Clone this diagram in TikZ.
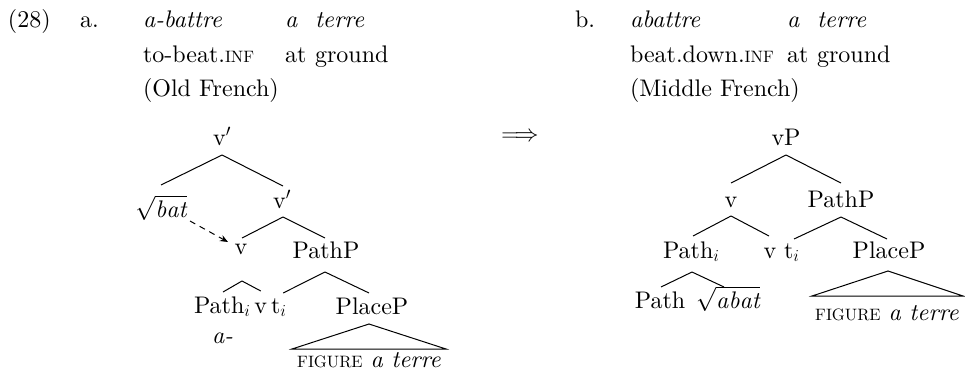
\RequirePackage{fix-cm}
\documentclass[tikz,border=0pt]{standalone}
\usepackage{fontspec}
\setmainfont{lmroman10-regular.otf}[
  ItalicFont=lmroman10-italic.otf,
  BoldFont=lmroman10-bold.otf]
\usetikzlibrary{calc,arrows.meta}
% small capitals drawn as reduced upper case
\newcommand\smallcapsword[1]{{\fontsize{16.5}{20}\selectfont #1}}
\begin{document}
\begin{tikzpicture}[x=1pt,y=-1pt,
  every node/.style={inner sep=0pt, outer sep=0pt, font=\fontsize{24}{29}\selectfont},
  word/.style={anchor=base west},
  lab/.style={anchor=base},
  branch/.style={line width=1pt},
  move/.style={line width=1pt, dash pattern=on 6pt off 5pt,
    -{Stealth[length=8pt,width=6.5pt]}}]
\useasboundingbox (0,0) rectangle (965,378);

% ---- example (28a): glossed line
\node[word] (exnum) at (8,27) {(28)};
\node[word] (exa)   at (80,27) {a.};
\node[word] (a1)    at (143,27) {\itshape a-battre};
\node[word] (a2)    at (285,27) {\itshape a};
\node[word] (a3)    at (315,27) {\itshape terre};
\node[word] (g1)    at (143,62) {to-beat.\smallcapsword{INF}};
\node[word] (g2)    at (285,62) {at};
\node[word] (g3)    at (315,62) {ground};
\node[word] (tra)   at (143,96) {(Old French)};

% ---- example (28b): glossed line
\node[word] (exb)   at (575,27) {b.};
\node[word] (b1)    at (630,27) {\itshape abattre};
\node[word] (b2)    at (787,27) {\itshape a};
\node[word] (b3)    at (817,27) {\itshape terre};
\node[word] (h1)    at (630,62) {beat.down.\smallcapsword{INF}};
\node[word] (h2)    at (787,62) {at};
\node[word] (h3)    at (817,62) {ground};
\node[word] (trb)   at (630,96) {(Middle French)};

% ---- change arrow
\node (impl) at (520,137) {$\Longrightarrow$};

% ---- tree (a)
\node[lab]  (vA1)    at (222,145) {v$'$};
\node[lab]  (bat)    at (161,217) {$\sqrt{\mathit{bat}}$};
\node[lab]  (vA2)    at (282,208) {v$'$};
\node[lab]  (vA3)    at (241,254) {v};
\node[lab]  (pathPA) at (326,258) {PathP};
\node[word] (pathiA) at (194,313) {Path$_i$};
\node[word] (vA4)    at ($(pathiA.base east)+(4,0)$) {v};
\node[word] (tA)     at ($(vA4.base east)+(4,0)$) {t$_i$};
\node[word] (aA)     at (212,343) {\itshape a-};
\node[lab]  (placeA) at (372,314) {PlaceP};
\node[lab]  (figA)   at (369,367) {\smallcapsword{FIGURE} \textit{a terre}};

\draw[branch] ($(vA1.base)+(0,10)$) -- ($(bat.base)+(0,-32)$);
\draw[branch] ($(vA1.base)+(0,10)$) -- ($(vA2.base)+(1,-22)$);
\draw[branch] ($(vA2.base)+(1,9)$) -- ($(vA3.base)+(1,-16)$);
\draw[branch] ($(vA2.base)+(1,9)$) -- ($(pathPA.base)+(-1,-20)$);
\draw[branch] ($(vA3.base)+(1,27)$) -- ($(pathiA.base west)+(29,-21)$);
\draw[branch] ($(vA3.base)+(1,27)$) -- ($(vA4.base)+(0,-22)$);
\draw[branch] ($(pathPA.base)+(-1,14)$) -- ($(tA.base west)+(12,-20)$);
\draw[branch] ($(pathPA.base)+(-1,14)$) -- ($(placeA.base)+(-3,-21)$);
\draw[branch] ($(placeA.base)+(-3,10)$) -- ($(placeA.base)+(-80,35)$)
  -- ($(placeA.base)+(74,35)$) -- cycle;
\draw[move] ($(bat.base)+(29,4)$) -- ($(vA3.base)+(-13,-12)$);

% ---- tree (b)
\node[lab]  (vPB)    at (786,145) {vP};
\node[lab]  (vB1)    at (731,207) {v};
\node[lab]  (pathPB) at (841,207) {PathP};
\node[word] (pathiB) at (663,258) {Path$_i$};
\node[lab]  (vB2)    at (770,258) {v};
\node[word] (tB)     at (784,258) {t$_i$};
\node[lab]  (placeB) at (889,258) {PlaceP};
\node[lab]  (pathB)  at (660,308) {Path};
\node[lab]  (abat)   at (728,308) {$\sqrt{\mathit{abat}}$};
\node[lab]  (figB)   at (887,320) {\smallcapsword{FIGURE} \textit{a terre}};

\draw[branch] ($(vPB.base)+(0,10)$) -- ($(vB1.base)+(0,-24)$);
\draw[branch] ($(vPB.base)+(0,10)$) -- ($(pathPB.base)+(0,-24)$);
\draw[branch] ($(vB1.base)+(0,9)$) -- ($(pathiB.base west)+(30,-22)$);
\draw[branch] ($(vB1.base)+(0,9)$) -- ($(vB2.base)+(-1,-22)$);
\draw[branch] ($(pathPB.base)+(0,10)$) -- ($(tB.base west)+(10,-19)$);
\draw[branch] ($(pathPB.base)+(0,10)$) -- ($(placeB.base)+(-2,-19)$);
\draw[branch] ($(pathiB.base west)+(29,14)$) -- ($(pathB.base)+(1,-21)$);
\draw[branch] ($(pathiB.base west)+(29,14)$) -- ($(abat.base)+(-4,-21)$);
\draw[branch] ($(placeB.base)+(-1,13)$) -- ($(placeB.base)+(-77,38)$)
  -- ($(placeB.base)+(74,38)$) -- cycle;
\end{tikzpicture}
\end{document}
